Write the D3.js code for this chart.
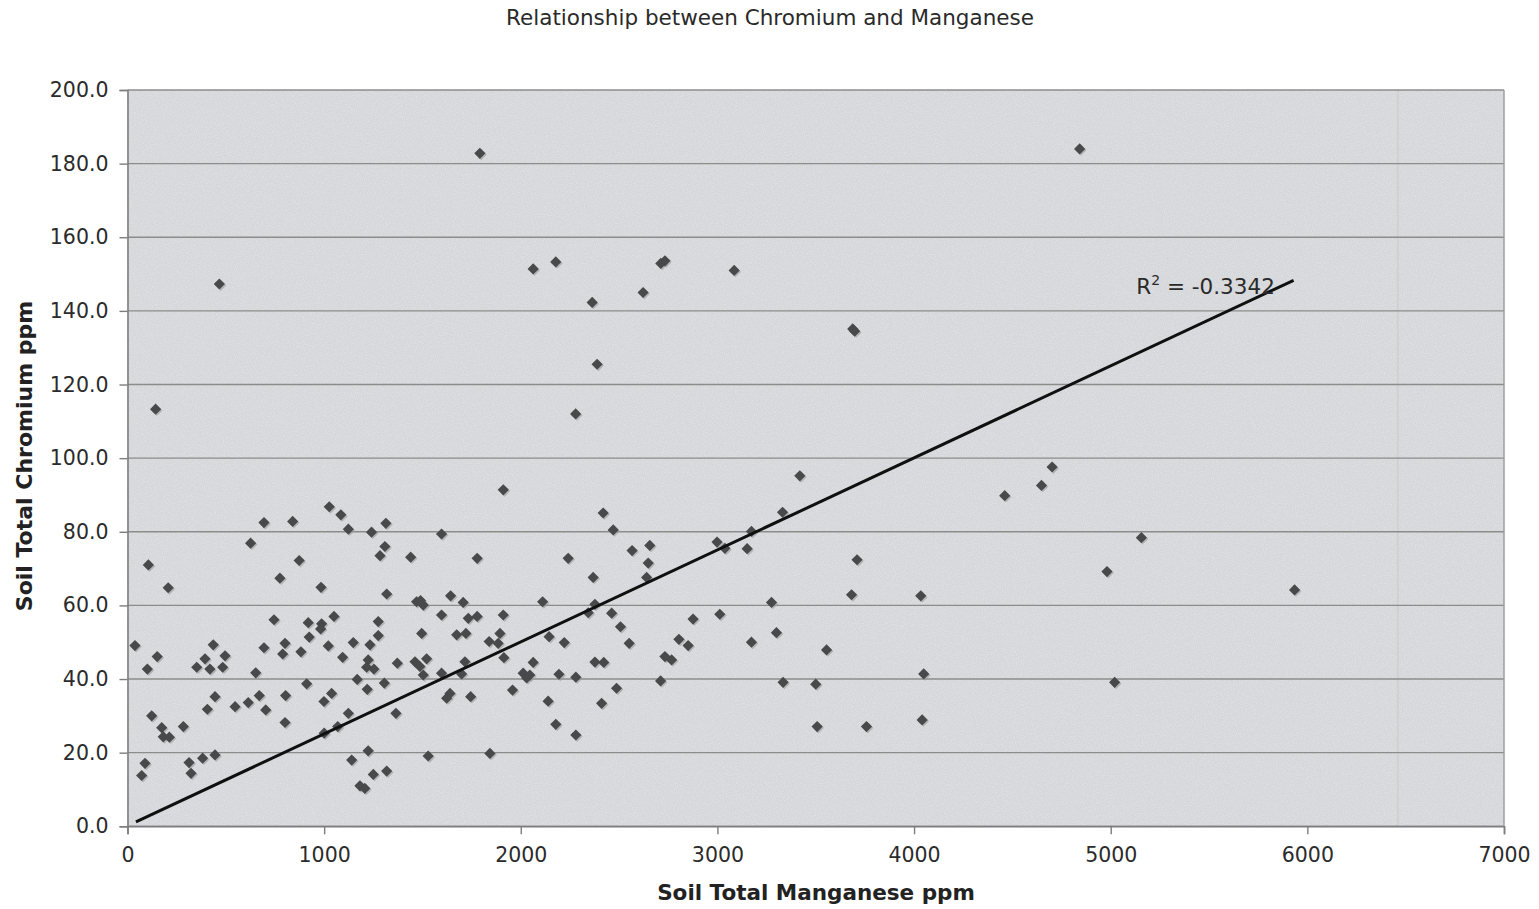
<!DOCTYPE html>
<html>
<head>
<meta charset="utf-8">
<script src="https://cdn.jsdelivr.net/npm/d3@7"></script>
<style>
  html, body { margin: 0; padding: 0; background: #ffffff; }
  svg { display: block; }
</style>
</head>
<body>
<script>
// ---------- DATA ----------
const chartTitle = "Relationship between Chromium and Manganese";
const xTitle = "Soil Total Manganese ppm";
const yTitle = "Soil Total Chromium ppm";
const xTicks = [0, 1000, 2000, 3000, 4000, 5000, 6000, 7000];
const yTicks = [0, 20, 40, 60, 80, 100, 120, 140, 160, 180, 200];

// Soil total manganese (ppm)
const manganese = [
  38,106,207,151,101,123,174,182,213,284,89,72,313,323,382,445,352,394,419,436,
  484,496,406,445,547,614,670,703,652,626,694,840,694,745,775,801,789,804,801,873,
  882,911,919,924,984,987,982,1021,1050,1026,1085,1123,1094,999,1038,1000,1069,1123,1140,1182,
  1207,1224,1250,1318,1148,1168,1219,1233,1224,1216,1253,1306,1275,1275,1241,1314,1309,1284,1318,1365,
  1372,1440,1470,1504,1490,1496,1462,1487,1521,1504,1529,1597,1597,1643,1707,1733,1778,1674,1721,1778,
  1597,1640,1623,1699,1716,1745,1839,1843,
  1911,2419,2470,2241,2368,2566,2656,2648,2640,2111,2377,2343,2462,2507,2551,1911,1894,1885,1914,2144,
  2221,2063,2012,2046,2030,2194,2280,1958,2139,2178,2280,2377,2422,2487,2411,2711,2733,2767,2804,2851,
  2876,3012,2998,3038,3151,3173,3331,3275,3300,3173,3334,3500,3555,3507,3682,3710,3419,
  1792,467,143,2063,2178,2363,2622,2712,2733,3085,2388,2279,3688,3698,4842,
  4702,4648,4461,5156,4981,4034,5935,4049,5020,3758,4041
];
// Soil total chromium (ppm)
const chromium = [
  49.1,71.0,64.8,46.1,42.7,30.0,26.8,24.3,24.2,27.1,17.1,13.8,17.3,14.4,18.5,19.4,43.2,45.5,42.7,49.3,
  43.2,46.3,31.8,35.2,32.5,33.6,35.5,31.6,41.7,76.9,82.5,82.8,48.5,56.1,67.4,49.7,46.8,35.5,28.2,72.2,
  47.4,38.7,55.3,51.4,64.9,55.0,53.6,49.0,57.0,86.8,84.6,80.7,45.9,33.9,36.1,25.3,27.1,30.7,18.0,11.0,
  10.3,20.5,14.1,15.0,49.9,39.9,37.2,49.3,45.2,43.2,42.7,38.9,55.6,51.8,79.9,82.3,76.0,73.5,63.1,30.7,
  44.3,73.1,61.0,60.1,61.3,52.4,44.7,43.4,45.5,41.1,19.1,79.4,57.4,62.6,60.8,56.5,57.0,52.0,52.4,72.8,
  41.6,36.1,34.8,41.4,44.7,35.2,50.2,19.8,
  91.4,85.1,80.5,72.8,67.6,74.9,76.3,71.5,67.6,61.0,60.3,58.0,57.9,54.2,49.7,57.4,52.4,49.7,45.8,51.5,
  49.9,44.5,41.6,41.1,40.3,41.3,40.5,37.0,34.0,27.7,24.8,44.6,44.5,37.5,33.4,39.5,46.1,45.2,50.8,49.1,
  56.3,57.6,77.2,75.5,75.4,80.1,85.3,60.8,52.6,50.0,39.1,38.6,47.9,27.1,62.9,72.4,95.2,
  182.8,147.3,113.3,151.4,153.3,142.3,145.0,152.9,153.6,151.0,125.5,112.0,135.1,134.5,184.0,
  97.6,92.6,89.8,78.4,69.2,62.6,64.2,41.4,39.1,27.1,28.9
];

// Trend line endpoints as drawn in the chart
const trendX = [43, 5930];
const trendY = [1.2, 148.3];
const trendLabel = "-0.3342";
const trendLabelAt = [5130, 144.6];

// ---------- LAYOUT ----------
const W = 1539, H = 909;
const plot = { left: 127.5, right: 1504, top: 90, bottom: 826.3 };

const svg = d3.select("body").append("svg")
  .attr("width", W).attr("height", H)
  .style("font-family", "'DejaVu Sans', Verdana, sans-serif");

const x = d3.scaleLinear().domain([0, 7000]).range([plot.left, plot.right]);
const y = d3.scaleLinear().domain([0, 200]).range([plot.bottom, plot.top]);

// plot background with subtle grain
const defs = svg.append("defs");
const f = defs.append("filter").attr("id", "grain").attr("x", 0).attr("y", 0).attr("width", 1).attr("height", 1);
f.append("feTurbulence").attr("type", "fractalNoise").attr("baseFrequency", 0.9).attr("numOctaves", 2).attr("seed", 3).attr("result", "n");
f.append("feColorMatrix").attr("in", "n").attr("type", "matrix")
  .attr("values", "0 0 0 0 1  0 0 0 0 1  0 0 0 0 1  0 0 0 0.55 -0.22").attr("result", "w");
f.append("feComposite").attr("in", "w").attr("in2", "SourceGraphic").attr("operator", "in").attr("result", "wm");
f.append("feMerge").selectAll("feMergeNode").data(["SourceGraphic", "wm"]).join("feMergeNode").attr("in", d => d);

svg.append("rect")
  .attr("x", plot.left).attr("y", plot.top)
  .attr("width", plot.right - plot.left).attr("height", plot.bottom - plot.top)
  .attr("fill", "#d6d7da")
  .attr("filter", "url(#grain)");

// faint scan artefact line
svg.append("line")
  .attr("x1", x(6460)).attr("x2", x(6460))
  .attr("y1", plot.top).attr("y2", plot.bottom)
  .attr("stroke", "#c9d3c9").attr("stroke-width", 2).attr("opacity", 0.8);

// horizontal gridlines
svg.append("g").selectAll("line").data(yTicks).join("line")
  .attr("x1", plot.left).attr("x2", plot.right)
  .attr("y1", d => y(d)).attr("y2", d => y(d))
  .attr("stroke", "#8c8c8c").attr("stroke-width", 1.4);

// right border
svg.append("line")
  .attr("x1", plot.right).attr("x2", plot.right)
  .attr("y1", plot.top).attr("y2", plot.bottom)
  .attr("stroke", "#9a9a9a").attr("stroke-width", 1.4);

// axes
const yAxis = d3.axisLeft(y).tickValues(yTicks).tickFormat(d3.format(".1f")).tickSize(8).tickPadding(11);
const gy = svg.append("g").attr("transform", `translate(${plot.left},0)`).call(yAxis);
gy.select(".domain").attr("stroke", "#7d7d7d").attr("stroke-width", 1.6);
gy.selectAll(".tick line").attr("stroke", "#7d7d7d").attr("stroke-width", 1.4);
gy.selectAll(".tick text").attr("fill", "#2b2b2b").style("font-size", "20.5px")
  .style("font-family", "'DejaVu Sans', Verdana, sans-serif");

const xAxis = d3.axisBottom(x).tickValues(xTicks).tickFormat(d3.format("d")).tickSize(8).tickPadding(13);
const gx = svg.append("g").attr("transform", `translate(0,${plot.bottom})`).call(xAxis);
gx.select(".domain").attr("stroke", "#7d7d7d").attr("stroke-width", 1.6);
gx.selectAll(".tick line").attr("stroke", "#7d7d7d").attr("stroke-width", 1.4);
gx.selectAll(".tick text").attr("fill", "#2b2b2b").style("font-size", "20.5px")
  .style("font-family", "'DejaVu Sans', Verdana, sans-serif");

// points
const pts = manganese.map((m, i) => ({ m, c: chromium[i] }));
const diamond = "M0,-5.6L5.6,0L0,5.6L-5.6,0Z";
svg.append("g").selectAll("path").data(pts).join("path")
  .attr("d", diamond)
  .attr("transform", d => `translate(${x(d.m) + 1.3},${y(d.c) + 1.3})`)
  .attr("fill", "#9a9a9c").attr("opacity", 0.6);
svg.append("g").selectAll("path").data(pts).join("path")
  .attr("d", diamond)
  .attr("transform", d => `translate(${x(d.m)},${y(d.c)})`)
  .attr("fill", "#48494b");

// trend line
svg.append("line")
  .attr("x1", x(trendX[0])).attr("y1", y(trendY[0]))
  .attr("x2", x(trendX[1])).attr("y2", y(trendY[1]))
  .attr("stroke", "#101010").attr("stroke-width", 3);

// R² label
const rl = svg.append("text")
  .attr("x", x(trendLabelAt[0])).attr("y", y(trendLabelAt[1]))
  .attr("fill", "#2a2a2a").style("font-size", "21.5px");
rl.append("tspan").text("R");
rl.append("tspan").attr("dy", -9).style("font-size", "14px").text("2");
rl.append("tspan").attr("dy", 9).text(" = " + trendLabel);

// titles
svg.append("text")
  .attr("x", 770).attr("y", 25).attr("text-anchor", "middle")
  .attr("fill", "#2a2a2a").style("font-size", "21.5px").text(chartTitle);

svg.append("text")
  .attr("x", 816).attr("y", 900).attr("text-anchor", "middle")
  .attr("fill", "#222").style("font-size", "21.5px").style("font-weight", "bold").text(xTitle);

svg.append("text")
  .attr("transform", `translate(32,456) rotate(-90)`)
  .attr("text-anchor", "middle")
  .attr("fill", "#222").style("font-size", "22px").style("font-weight", "bold").text(yTitle);
</script>
</body>
</html>
